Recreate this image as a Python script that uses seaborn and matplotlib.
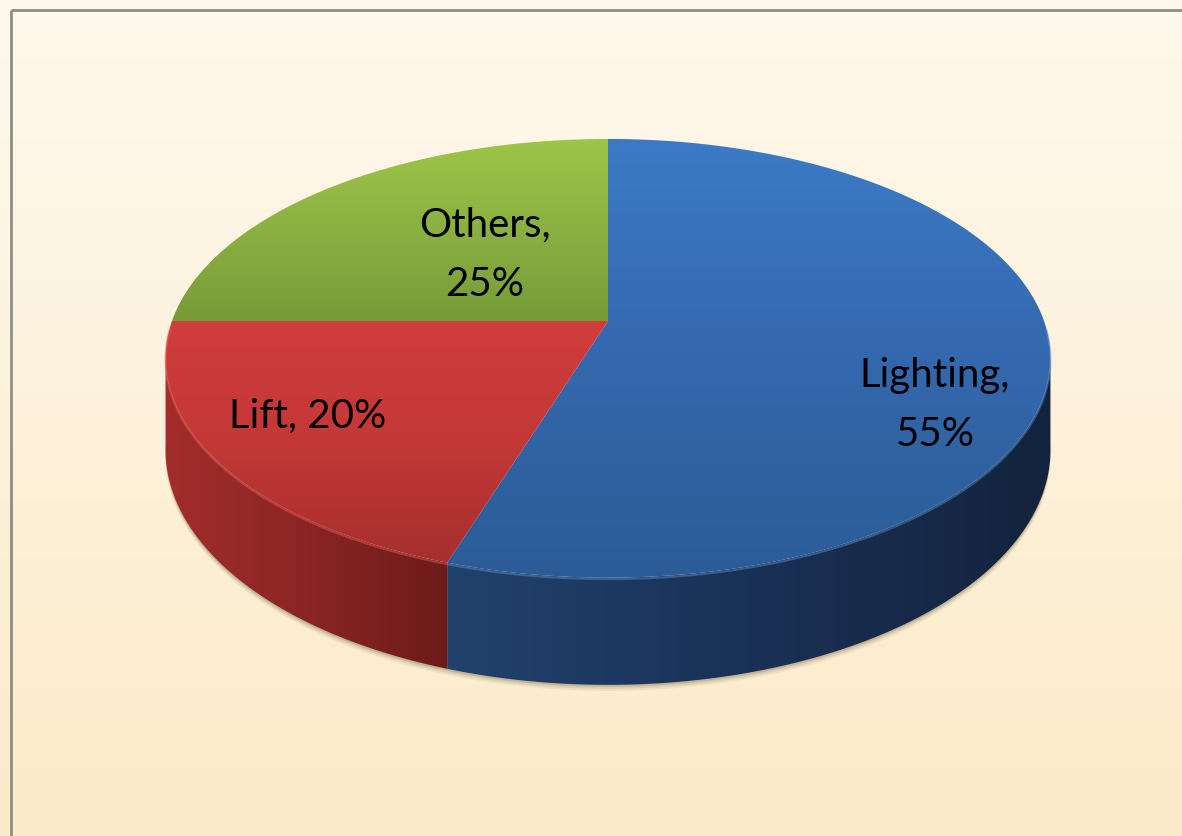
import numpy as np
import matplotlib
matplotlib.use("Agg")
import matplotlib.pyplot as plt
from matplotlib.patches import Polygon, Rectangle
import seaborn as sns

# ---------------- data ----------------
categories = ["Lighting", "Lift", "Others"]
shares = [55, 20, 25]

# ---------------- style ----------------
sns.set_theme(style="white")
plt.rcParams['font.family'] = ['Lato', 'DejaVu Sans']

top_colors = {"Lighting": ["#3C7AC7", "#3468AE", "#2C5C97"],
              "Lift": ["#D03D3C", "#C33837", "#A52F2E"],
              "Others": ["#9EC648", "#8AB141", "#779A37"]}
side_colors = {"Lighting": ["#21426D", "#1A3156", "#13233D"],
               "Lift": ["#A32D2B", "#8A2523", "#6C1B19"],
               "Others": ["#6a8a30", "#4f6a22"]}
rim_colors = {"Lighting": "#5C95DA", "Lift": "#E8605C", "Others": "#B0D060"}
label_sep = {"Lighting": "\n", "Lift": " ", "Others": "\n"}
label_pos = {"Lighting": (935, 405), "Lift": (308, 416), "Others": (485, 255)}

W, H = 1182, 837
fig = plt.figure(figsize=(W / 100, H / 100), dpi=100)
ax = fig.add_axes([0, 0, 1, 1])
ax.set_xlim(0, W)
ax.set_ylim(H, 0)
ax.axis('off')

# background
bg = sns.blend_palette(["#FEF8EC", "#FEF4E2", "#FDEFD4", "#FCEBC8"], as_cmap=True)
ax.imshow(np.linspace(0, 1, 256)[:, None], cmap=bg, extent=[0, W, H, 0],
          aspect='auto', zorder=0, interpolation='bicubic')
ax.add_patch(Rectangle((11, 11), W + 50, H + 50, fill=False,
                       edgecolor="#8E8D88", lw=2.0, zorder=1))

# projection of the 3-D disk
CX, CY, A, B, K, D0 = 608, 322, 436, 213, 0.17, 89


def proj(theta_deg, drop=0.0):
    t = np.radians(theta_deg)
    u, v = np.cos(t), np.sin(t)
    s = 1.0 / (1.0 + K * v)
    return CX + A * u * s, CY - B * v * s + drop * D0 * s


total = float(sum(shares))
cum = np.concatenate([[0], np.cumsum(shares)])
starts = 90 - 360 * cum[:-1] / total
ends = 90 - 360 * cum[1:] / total

vis_lo = 180 + np.degrees(np.arcsin(K))
vis_hi = 360 - np.degrees(np.arcsin(K))

# shadow under the pie
th_sh = np.linspace(vis_lo - 10, vis_hi + 10, 300)
for dy, al in [(6, 0.10), (4, 0.15), (2, 0.25)]:
    xb, yb = proj(th_sh, drop=1.0)
    xt, yt = proj(th_sh[::-1], drop=0.0)
    pts = np.column_stack([np.r_[xb, xt], np.r_[yb + dy, yt + dy]])
    ax.add_patch(Polygon(pts, closed=True, facecolor="#7a6a50", edgecolor="none",
                         alpha=al, zorder=2))


def gradient_fill(poly_pts, colors, horizontal, z):
    patch = Polygon(poly_pts, closed=True, facecolor="none", edgecolor="none", zorder=z)
    ax.add_patch(patch)
    x0, x1 = poly_pts[:, 0].min() - 2, poly_pts[:, 0].max() + 2
    y0, y1 = poly_pts[:, 1].min() - 2, poly_pts[:, 1].max() + 2
    cmap = sns.blend_palette(colors, as_cmap=True)
    g = np.linspace(0, 1, 256)
    arr = g[None, :] if horizontal else g[:, None]
    im = ax.imshow(arr, cmap=cmap, extent=[x0, x1, y1, y0], aspect='auto',
                   zorder=z, interpolation='bicubic')
    im.set_clip_path(patch)
    return patch


# sides
for cat, a0, a1 in zip(categories, starts, ends):
    lo, hi = a1, a0
    for k in (-1, 0, 1):
        l2, h2 = lo + 360 * k, hi + 360 * k
        s_lo, s_hi = max(l2, vis_lo), min(h2, vis_hi)
        if s_hi > s_lo:
            th = np.linspace(s_lo, s_hi, 200)
            xt, yt = proj(th)
            xb, yb = proj(th[::-1], drop=1.0)
            pts = np.column_stack([np.r_[xt, xb], np.r_[yt, yb]])
            gradient_fill(pts, side_colors[cat], True, 3)

# top faces
for cat, a0, a1 in zip(categories, starts, ends):
    th = np.linspace(a0, a1, 300)
    xa, ya = proj(th)
    pts = np.column_stack([np.r_[CX, xa], np.r_[CY, ya]])
    gradient_fill(pts, top_colors[cat], False, 4)
    for k in (-1, 0, 1):
        l2, h2 = a1 + 360 * k, a0 + 360 * k
        s_lo, s_hi = max(l2, vis_lo - 8), min(h2, vis_hi + 8)
        if s_hi > s_lo:
            thr = np.linspace(s_lo, s_hi, 200)
            xr, yr = proj(thr)
            ax.plot(xr, yr + 1.5, color=rim_colors[cat], lw=1.5, alpha=0.45,
                    zorder=5, solid_capstyle='butt')

# labels
for cat, val in zip(categories, shares):
    x, y = label_pos[cat]
    ax.text(x, y, f"{cat},{label_sep[cat]}{val}%", ha='center', va='center',
            fontsize=29, color='black', linespacing=1.75, zorder=6)

fig.savefig("out.png", dpi=100)
